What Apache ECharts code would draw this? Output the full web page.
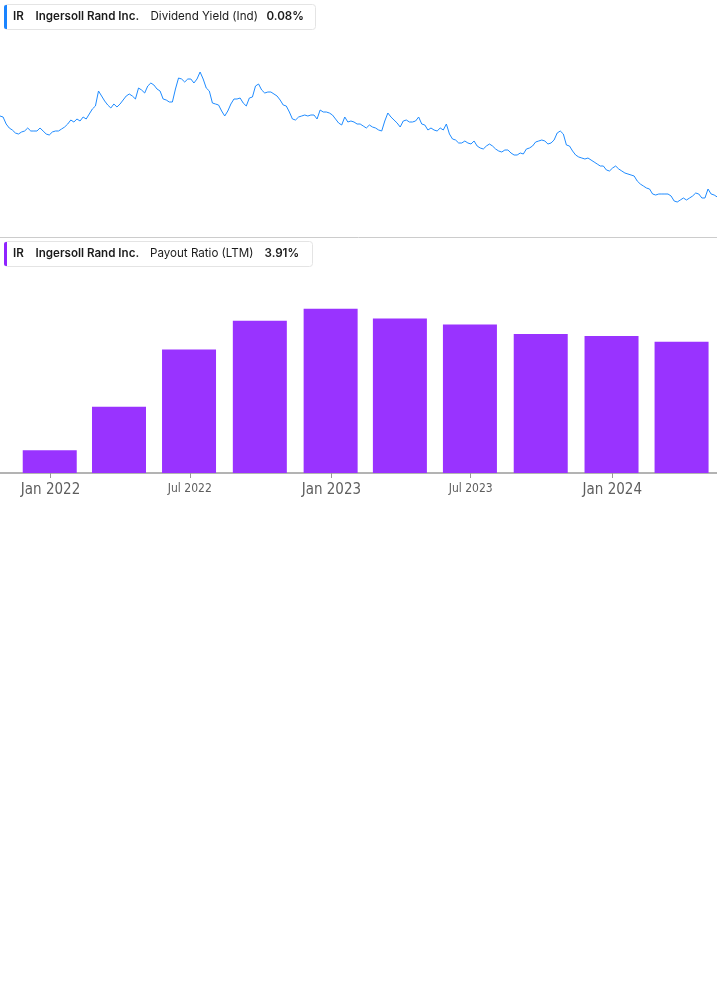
<!DOCTYPE html>
<html>
<head>
<meta charset="utf-8">
<script src="https://cdn.jsdelivr.net/npm/echarts@6/dist/echarts.min.js"></script>
<style>
html,body{margin:0;padding:0;background:#fff;}
#chart{width:717px;height:1005px;}
</style>
</head>
<body>
<div id="chart"></div>
<script>
// ---------- DATA ----------
const ticker = 'IR';
const company = 'Ingersoll Rand Inc.';
const lineMetric = 'Dividend Yield (Ind)';
const lineLatest = '0.08%';
const barMetric = 'Payout Ratio (LTM)';
const barLatest = '3.91%';

// Dividend yield (%), sampled every 4 days starting at lineStart
const lineStart = '2021-10-27T09:00:00';
const lineStepDays = 4;
const yieldValues = [
0.160,0.159,0.152,0.148,0.146,0.143,0.142,0.144,0.145,0.148,
0.145,0.145,0.145,0.148,0.145,0.142,0.141,0.144,0.145,0.145,
0.147,0.149,0.152,0.156,0.154,0.157,0.155,0.159,0.157,0.162,
0.167,0.170,0.185,0.180,0.175,0.171,0.168,0.172,0.169,0.172,
0.176,0.180,0.182,0.180,0.177,0.188,0.186,0.183,0.190,0.193,
0.191,0.187,0.185,0.177,0.176,0.174,0.174,0.187,0.198,0.197,
0.194,0.197,0.197,0.193,0.197,0.204,0.197,0.188,0.185,0.173,
0.172,0.171,0.165,0.160,0.165,0.172,0.177,0.177,0.178,0.173,
0.170,0.178,0.179,0.190,0.192,0.186,0.183,0.184,0.184,0.182,
0.180,0.176,0.171,0.170,0.164,0.157,0.156,0.159,0.160,0.161,
0.160,0.161,0.161,0.157,0.166,0.164,0.164,0.163,0.161,0.157,
0.153,0.151,0.159,0.154,0.155,0.154,0.152,0.152,0.150,0.148,
0.151,0.149,0.148,0.146,0.145,0.155,0.163,0.159,0.156,0.153,
0.149,0.155,0.156,0.154,0.154,0.155,0.159,0.152,0.151,0.146,
0.148,0.146,0.145,0.148,0.146,0.152,0.142,0.137,0.136,0.133,
0.133,0.135,0.133,0.132,0.135,0.130,0.128,0.127,0.130,0.132,
0.130,0.127,0.125,0.124,0.126,0.126,0.123,0.121,0.121,0.123,
0.122,0.127,0.128,0.130,0.134,0.135,0.136,0.135,0.132,0.133,
0.136,0.143,0.145,0.142,0.131,0.130,0.125,0.121,0.119,0.118,
0.117,0.118,0.116,0.114,0.112,0.110,0.110,0.106,0.105,0.108,
0.110,0.107,0.105,0.103,0.102,0.101,0.100,0.095,0.092,0.090,
0.088,0.087,0.082,0.081,0.082,0.082,0.082,0.082,0.080,0.075,
0.074,0.076,0.078,0.076,0.078,0.080,0.083,0.082,0.078,0.078,
0.087,0.082,0.081,0.079
];

// Payout ratio (LTM, %) by quarter end
const barDates = ['2021-12-31','2022-03-31','2022-06-30','2022-09-30','2022-12-31',
                  '2023-03-31','2023-06-30','2023-09-30','2023-12-31','2024-03-31'];
const payoutValues = [0.68, 1.97, 3.68, 4.53, 4.89, 4.60, 4.42, 4.14, 4.08, 3.91];

// x-axis ticks
const tickDates = ['2022-01-01','2022-07-01','2023-01-01','2023-07-01','2024-01-01'];
const tickLabels = ['Jan 2022','Jul 2022','Jan 2023','Jul 2023','Jan 2024'];

const axisMin = '2021-10-27T09:00:00';
const axisMax = '2024-05-16T01:00:00';

// ---------- BUILD ----------
const ts = s => new Date(s.length === 10 ? s + 'T00:00:00' : s).getTime();
const DAY = 86400000;
const lineData = yieldValues.map((v, i) => [ts(lineStart) + i * lineStepDays * DAY, v]);
const barData = barDates.map((d, i) => [ts(d), payoutValues[i]]);
const tickTs = tickDates.map(ts);

const lineColor = '#1f8bff';
const barColor = '#9933ff';
const axisFont = '"DejaVu Sans Condensed", "Liberation Sans Narrow", sans-serif';

function legendGroup(y, w, color, metric, latest, xMetric, xLatest) {
  const font = (wt) => wt + ' 11.6px Inter, "Noto Sans", sans-serif';
  return {
    type: 'group', x: 0, y: y, silent: true,
    children: [
      { type: 'rect', shape: { x: 4.5, y: 0.5, width: w, height: 25, r: 3 },
        style: { fill: '#fff', stroke: '#e4e4e4', lineWidth: 1 } },
      { type: 'rect', shape: { x: 4, y: 1, width: 3, height: 24, r: [2, 0, 0, 2] },
        style: { fill: color } },
      { type: 'text', x: 13, y: 13, style: { text: ticker, font: font(600), fill: '#1b1b1b', verticalAlign: 'middle' } },
      { type: 'text', x: 35.5, y: 13, style: { text: company, font: font(600), fill: '#1b1b1b', verticalAlign: 'middle' } },
      { type: 'text', x: xMetric, y: 13, style: { text: metric, font: font(400), fill: '#1b1b1b', verticalAlign: 'middle' } },
      { type: 'text', x: xLatest, y: 13, style: { text: latest, font: font(600), fill: '#1b1b1b', verticalAlign: 'middle' } }
    ]
  };
}

const chart = echarts.init(document.getElementById('chart'), null, { renderer: 'canvas' });
chart.setOption({
  animation: false,
  backgroundColor: '#fff',
  grid: [
    { left: 0, right: 0, top: 36, height: 201 },
    { left: 0, right: 0, top: 271.5, height: 201.5 }
  ],
  xAxis: [
    { type: 'value', gridIndex: 0, min: ts(axisMin), max: ts(axisMax),
      axisLine: { show: true, onZero: false, lineStyle: { color: '#cccccc', width: 1 } },
      axisTick: { show: false }, axisLabel: { show: false }, splitLine: { show: false } },
    { type: 'value', gridIndex: 1, min: ts(axisMin), max: ts(axisMax),
      axisLine: { show: true, onZero: false, lineStyle: { color: '#b3b3b3', width: 2 } },
      axisTick: { show: true, customValues: tickTs, length: 5, lineStyle: { color: '#999', width: 1 } },
      axisLabel: {
        show: true, customValues: tickTs, margin: 10, verticalAlign: 'top',
        formatter: function (val) {
          const i = tickTs.indexOf(val);
          const lab = i >= 0 ? tickLabels[i] : '';
          return lab.indexOf('Jan') === 0 ? '{big|' + lab + '}' : '{small|' + lab + '}';
        },
        rich: {
          big: { fontSize: 15, fontFamily: axisFont, color: '#5e5e5e' },
          small: { fontSize: 12, fontFamily: axisFont, color: '#5e5e5e' }
        }
      },
      splitLine: { show: false } }
  ],
  yAxis: [
    { type: 'value', gridIndex: 0, min: 0.039, max: 0.240, show: false, splitLine: { show: false } },
    { type: 'value', gridIndex: 1, min: 0, max: 6, show: false, splitLine: { show: false } }
  ],
  series: [
    { type: 'line', xAxisIndex: 0, yAxisIndex: 0, data: lineData, showSymbol: false,
      lineStyle: { color: lineColor, width: 1 }, smooth: false, z: 3 },
    { type: 'bar', xAxisIndex: 1, yAxisIndex: 1, data: barData, barWidth: 54,
      itemStyle: { color: barColor }, z: 1 }
  ],
  graphic: [
    legendGroup(4, 311, '#1a84ff', lineMetric, lineLatest, 150.5, 266.5),
    legendGroup(241, 308, '#8f24ff', barMetric, barLatest, 150, 264.5)
  ]
});
</script>
</body>
</html>
